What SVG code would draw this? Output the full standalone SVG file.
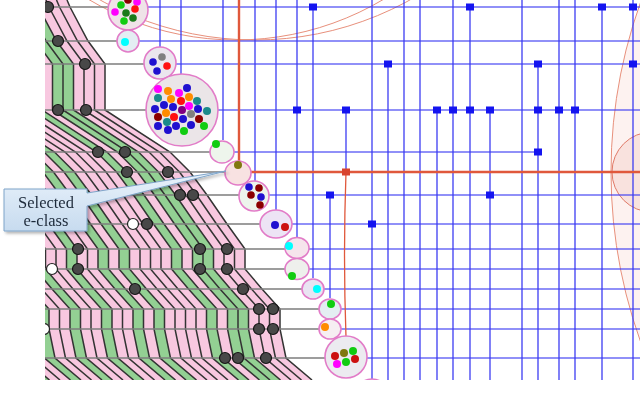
<svg xmlns="http://www.w3.org/2000/svg" xmlns:xlink="http://www.w3.org/1999/xlink" width="640" height="404" viewBox="0 0 640 404">
<style>
.p{fill:#f8c8e0}
.g{fill:#93d093}
.gl{stroke:#7e7e7e;stroke-width:1.3;fill:none}
.bl{stroke:#3a3af2;stroke-opacity:0.75;stroke-width:1.7;fill:none}
.rd{stroke:#e0583c;stroke-width:2.4;fill:none}
.ec{stroke:#e27cc8;stroke-width:1.6}
.dn{fill:#484848;stroke:#151515;stroke-width:1.2}
.wn{fill:#ffffff;stroke:#222;stroke-width:1.2}
.sq{fill:#1414f0}
.arc{fill:none;stroke:#e8907c;stroke-width:1}
.lbl{font-family:"Liberation Serif","Times New Roman",serif;font-size:16.5px;fill:#1e2a3a;text-anchor:middle}
</style>
<defs>
<clipPath id="pic"><rect x="45" y="0" width="595" height="380"/></clipPath>
<polygon id="band" points="67,0 70,7 88,41 105,64 105,110 170,152 190,172 207,195 227,224 245,249 245,269 262,289 280,309 280,329 286,358 312,380 301.5,380 275.5,358 269.5,329 269.5,309 251.5,289 234.5,269 234.5,249 216.5,224 196.5,195 179.5,172 159.5,152 94.5,110 94.5,64 77.5,41 59.5,7 56.5,0"/>
<polyline id="edge" fill="none" stroke="#333" stroke-width="1.5" points="67,0 70,7 88,41 105,64 105,110 170,152 190,172 207,195 227,224 245,249 245,269 262,289 280,309 280,329 286,358 312,380"/>
<rect id="sqr" x="-4" y="-3.5" width="8" height="7"/>
<linearGradient id="cg" x1="0" y1="0" x2="0" y2="1">
<stop offset="0" stop-color="#e9f2fb"/>
<stop offset="1" stop-color="#c7dbef"/>
</linearGradient>
<filter id="sh" x="-20%" y="-20%" width="150%" height="160%">
<feDropShadow dx="2" dy="2" stdDeviation="1.5" flood-color="#000" flood-opacity="0.3"/>
</filter>
</defs>
<rect width="640" height="404" fill="#ffffff"/>
<g clip-path="url(#pic)">
<g id="background">
<circle cx="236" cy="-248" r="288" fill="#fbecec" class="arc"/>
<circle cx="255" cy="-280" r="320" class="arc"/>
<circle cx="1113" cy="172" r="502" fill="#fdf2f0" stroke="#e8907c" stroke-width="1"/>
<circle cx="652" cy="172" r="40" fill="#f9e2de" stroke="#e07a68" stroke-width="1"/>
</g>
<g id="strips">
<use href="#band" x="0" class="p"/>
<use href="#band" x="-10.5" class="p"/>
<use href="#band" x="-21" class="p"/>
<use href="#band" x="-31.5" class="g"/>
<use href="#band" x="-42" class="g"/>
<use href="#band" x="-52.5" class="p"/>
<use href="#band" x="-63" class="g"/>
<use href="#band" x="-73.5" class="p"/>
<use href="#band" x="-84" class="p"/>
<use href="#band" x="-94.5" class="p"/>
<use href="#band" x="-105" class="p"/>
<use href="#band" x="-115.5" class="g"/>
<use href="#band" x="-126" class="p"/>
<use href="#band" x="-136.5" class="g"/>
<use href="#band" x="-147" class="p"/>
<use href="#band" x="-157.5" class="p"/>
<use href="#band" x="-168" class="g"/>
<use href="#band" x="-178.5" class="p"/>
<use href="#band" x="-189" class="p"/>
<use href="#band" x="-199.5" class="g"/>
<use href="#band" x="-210" class="p"/>
<use href="#band" x="-220.5" class="p"/>
<use href="#band" x="-231" class="g"/>
<use href="#band" x="-241.5" class="p"/>
<use href="#band" x="-252" class="p"/>
<use href="#band" x="-262.5" class="g"/>
<use href="#band" x="-273" class="p"/>
<use href="#band" x="-283.5" class="p"/>
<use href="#edge" x="0"/><use href="#edge" x="-10.5"/><use href="#edge" x="-21"/><use href="#edge" x="-31.5"/>
<use href="#edge" x="-42"/><use href="#edge" x="-52.5"/><use href="#edge" x="-63"/><use href="#edge" x="-73.5"/>
<use href="#edge" x="-84"/><use href="#edge" x="-94.5"/><use href="#edge" x="-105"/><use href="#edge" x="-115.5"/>
<use href="#edge" x="-126"/><use href="#edge" x="-136.5"/><use href="#edge" x="-147"/><use href="#edge" x="-157.5"/>
<use href="#edge" x="-168"/><use href="#edge" x="-178.5"/><use href="#edge" x="-189"/><use href="#edge" x="-199.5"/>
<use href="#edge" x="-210"/><use href="#edge" x="-220.5"/><use href="#edge" x="-231"/><use href="#edge" x="-241.5"/>
<use href="#edge" x="-252"/><use href="#edge" x="-262.5"/><use href="#edge" x="-273"/><use href="#edge" x="-283.5"/>
<use href="#edge" x="-294"/>
</g>
<g id="connectors">
<path class="gl" d="M45 7H108M45 41H117M45 64H144M45 110H146M45 152H211M45 172H226M45 195H239M45 224H260M45 249H285M45 269H286M45 289H302M45 309H319M45 329H319M45 358H325"/>
<path class="bl" d="M148 7H640M139 41H640M176 64H640M218 110H640M234 152H538M269 195H640M292 224H640M309 249H640M308 269H640M324 289H640M341 309H640M341 329H640M367 358H640"/>
<path class="bl" d="M160 0V47M181 0V74M223 0V140M255 0V181M276 0V210M297 0V237M313 7V278M330 195V298M346 110V172M372 0V380M388 64V380M404 0V380M420 0V380M437 110V380M453 0V380M470 7V380M490 110V380M522 0V380M538 64V380M559 0V380M575 0V380M602 7V380M633 0V380"/>
<path class="rd" d="M239 0V161M250 172H640"/>
<path d="M346 172Q343 255 346 337" fill="none" stroke="#e0583c" stroke-width="1.3"/>
</g>
<g id="squares">
<use href="#sqr" class="sq" x="313" y="7"/><use href="#sqr" class="sq" x="470" y="7"/><use href="#sqr" class="sq" x="602" y="7"/><use href="#sqr" class="sq" x="633" y="7"/>
<use href="#sqr" class="sq" x="388" y="64"/><use href="#sqr" class="sq" x="538" y="64"/><use href="#sqr" class="sq" x="633" y="64"/>
<use href="#sqr" class="sq" x="297" y="110"/><use href="#sqr" class="sq" x="346" y="110"/><use href="#sqr" class="sq" x="437" y="110"/><use href="#sqr" class="sq" x="453" y="110"/><use href="#sqr" class="sq" x="470" y="110"/><use href="#sqr" class="sq" x="490" y="110"/><use href="#sqr" class="sq" x="538" y="110"/><use href="#sqr" class="sq" x="559" y="110"/><use href="#sqr" class="sq" x="575" y="110"/>
<use href="#sqr" class="sq" x="538" y="152"/>
<use href="#sqr" class="sq" x="330" y="195"/><use href="#sqr" class="sq" x="490" y="195"/>
<use href="#sqr" class="sq" x="372" y="224"/>
<use href="#sqr" x="346" y="172" fill="#d8432e"/>
</g>
<g id="nodes-dark">
<circle class="dn" cx="48" cy="7" r="5.5"/><circle class="dn" cx="58" cy="41" r="5.5"/><circle class="dn" cx="85" cy="64" r="5.5"/>
<circle class="dn" cx="58" cy="110" r="5.5"/><circle class="dn" cx="86" cy="110" r="5.5"/>
<circle class="dn" cx="98" cy="152" r="5.5"/><circle class="dn" cx="125" cy="152" r="5.5"/>
<circle class="dn" cx="127" cy="172" r="5.5"/><circle class="dn" cx="168" cy="172" r="5.5"/>
<circle class="dn" cx="180" cy="195" r="5.5"/><circle class="dn" cx="193" cy="195" r="5.5"/>
<circle class="wn" cx="133" cy="224" r="5.5"/><circle class="dn" cx="147" cy="224" r="5.5"/>
<circle class="dn" cx="78" cy="249" r="5.5"/><circle class="dn" cx="78" cy="269" r="5.5"/><circle class="wn" cx="52" cy="269" r="5.5"/>
<circle class="dn" cx="200" cy="249" r="5.5"/><circle class="dn" cx="200" cy="269" r="5.5"/>
<circle class="dn" cx="227" cy="249" r="5.5"/><circle class="dn" cx="227" cy="269" r="5.5"/>
<circle class="dn" cx="135" cy="289" r="5.5"/><circle class="dn" cx="243" cy="289" r="5.5"/>
<circle class="dn" cx="259" cy="309" r="5.5"/><circle class="dn" cx="273" cy="309" r="5.5"/>
<circle class="dn" cx="259" cy="329" r="5.5"/><circle class="dn" cx="273" cy="329" r="5.5"/>
<circle class="wn" cx="44" cy="329" r="5.5"/>
<circle class="dn" cx="225" cy="358" r="5.5"/><circle class="dn" cx="238" cy="358" r="5.5"/><circle class="dn" cx="266" cy="358" r="5.5"/>
</g>
<g id="eclass-1">
<circle class="ec" cx="128" cy="10" r="20" fill="#efe3e8"/>
<circle cx="137" cy="2" r="3.8" fill="#ff00ff"/><circle cx="128" cy="0" r="3.8" fill="#8b0000"/>
<circle cx="115" cy="12" r="3.8" fill="#ff00ff"/><circle cx="121" cy="5" r="3.8" fill="#11cc11"/>
<circle cx="126" cy="13" r="3.8" fill="#1a7a1a"/><circle cx="135" cy="9" r="3.8" fill="#ff1010"/>
<circle cx="124" cy="21" r="3.8" fill="#11cc11"/><circle cx="133" cy="18" r="3.8" fill="#1a7a1a"/>
</g>
<g id="eclass-2">
<circle class="ec" cx="128" cy="41" r="11" fill="#e4eef3"/>
<circle cx="125" cy="42" r="4" fill="#00ffff"/>
</g>
<g id="eclass-3">
<circle class="ec" cx="160" cy="63" r="16" fill="#ebe6ee"/>
<circle cx="162" cy="57" r="3.8" fill="#808080"/><circle cx="153" cy="62" r="3.8" fill="#2010d0"/>
<circle cx="167" cy="66" r="3.8" fill="#ff1010"/><circle cx="157" cy="71" r="3.8" fill="#2010d0"/>
</g>
<g id="eclass-4">
<circle class="ec" cx="182" cy="110" r="36" fill="#ebe5e8"/>
<circle cx="158" cy="89" r="4" fill="#ff00ff"/><circle cx="168" cy="91" r="4" fill="#ff8c00"/><circle cx="179" cy="93" r="4" fill="#ff00ff"/><circle cx="187" cy="88" r="4" fill="#2010d0"/>
<circle cx="158" cy="98" r="4" fill="#1a8a8a"/><circle cx="171" cy="99" r="4" fill="#ff8c00"/><circle cx="181" cy="101" r="4" fill="#ff1010"/><circle cx="189" cy="97" r="4" fill="#ff8c00"/><circle cx="197" cy="101" r="4" fill="#1a8a8a"/>
<circle cx="155" cy="109" r="4" fill="#2010d0"/><circle cx="164" cy="105" r="4" fill="#2010d0"/><circle cx="173" cy="107" r="4" fill="#2010d0"/><circle cx="182" cy="110" r="4" fill="#800080"/><circle cx="189" cy="106" r="4" fill="#ff00ff"/><circle cx="198" cy="109" r="4" fill="#2010d0"/><circle cx="207" cy="111" r="4" fill="#1a8a8a"/>
<circle cx="158" cy="117" r="4" fill="#8b0000"/><circle cx="166" cy="113" r="4" fill="#ff8c00"/><circle cx="174" cy="117" r="4" fill="#ff1010"/><circle cx="183" cy="119" r="4" fill="#2010d0"/><circle cx="191" cy="114" r="4" fill="#808080"/><circle cx="199" cy="119" r="4" fill="#8b0000"/>
<circle cx="167" cy="122" r="4" fill="#1a8a8a"/><circle cx="158" cy="126" r="4" fill="#2010d0"/><circle cx="176" cy="126" r="4" fill="#2010d0"/><circle cx="191" cy="125" r="4" fill="#2010d0"/><circle cx="204" cy="126" r="4" fill="#11cc11"/>
<circle cx="168" cy="130" r="4" fill="#2010d0"/><circle cx="184" cy="131" r="4" fill="#11cc11"/>
</g>
<g id="eclass-5">
<ellipse class="ec" cx="222" cy="152" rx="12" ry="11" fill="#eef5ec"/>
<circle cx="216" cy="144" r="4" fill="#11cc11"/>
</g>
<g id="eclass-6-selected">
<ellipse class="ec" cx="238" cy="173" rx="13" ry="12" fill="#f8e2e2"/>
<circle cx="238" cy="165" r="4" fill="#807810"/>
</g>
<g id="eclass-7">
<circle class="ec" cx="254" cy="196" r="15" fill="#edf4ec"/>
<circle cx="249" cy="187" r="3.8" fill="#2010d0"/><circle cx="259" cy="188" r="3.8" fill="#8b0000"/>
<circle cx="251" cy="195" r="3.8" fill="#8b0000"/><circle cx="261" cy="197" r="3.8" fill="#2010d0"/>
<circle cx="260" cy="205" r="3.8" fill="#8b0000"/>
</g>
<g id="eclass-8">
<ellipse class="ec" cx="276" cy="224" rx="16" ry="14" fill="#ede4f5"/>
<circle cx="275" cy="225" r="4" fill="#2010d0"/><circle cx="285" cy="227" r="4" fill="#cc1010"/>
</g>
<g id="eclass-9">
<ellipse class="ec" cx="297" cy="248" rx="12" ry="10.5" fill="#f6e4ec"/>
<circle cx="289" cy="246" r="4" fill="#00ffff"/>
</g>
<g id="eclass-10">
<ellipse class="ec" cx="297" cy="269" rx="12" ry="10.5" fill="#eef0ec"/>
<circle cx="292" cy="276" r="4" fill="#11cc11"/>
</g>
<g id="eclass-11">
<ellipse class="ec" cx="313" cy="289" rx="11" ry="10" fill="#e9e4f2"/>
<circle cx="317" cy="289" r="4" fill="#00ffff"/>
</g>
<g id="eclass-12">
<ellipse class="ec" cx="330" cy="309" rx="11" ry="10" fill="#e4eef2"/>
<circle cx="331" cy="304" r="4" fill="#11cc11"/>
</g>
<g id="eclass-13">
<ellipse class="ec" cx="330" cy="329" rx="11" ry="10" fill="#f6eef2"/>
<circle cx="325" cy="327" r="4" fill="#ff8c00"/>
</g>
<g id="eclass-14">
<circle class="ec" cx="346" cy="357" r="21" fill="#ecebf0"/>
<circle cx="335" cy="356" r="4" fill="#cc1010"/><circle cx="344" cy="353" r="4" fill="#807810"/><circle cx="353" cy="351" r="4" fill="#11cc11"/>
<circle cx="337" cy="364" r="4" fill="#ff00ff"/><circle cx="346" cy="362" r="4" fill="#11cc11"/><circle cx="355" cy="359" r="4" fill="#cc1010"/>
</g>
<g id="eclass-15">
<circle class="ec" cx="372" cy="396" r="17" fill="#f3e6ee"/>
</g>
</g>
<g id="callout" filter="url(#sh)">
<path d="M4 189H87V193L226 171L87 206V231H4Z" fill="url(#cg)" stroke="#7ea4c9" stroke-width="1"/>
<text class="lbl" x="46" y="208">Selected</text>
<text class="lbl" x="46" y="226">e-class</text>
</g>
</svg>
